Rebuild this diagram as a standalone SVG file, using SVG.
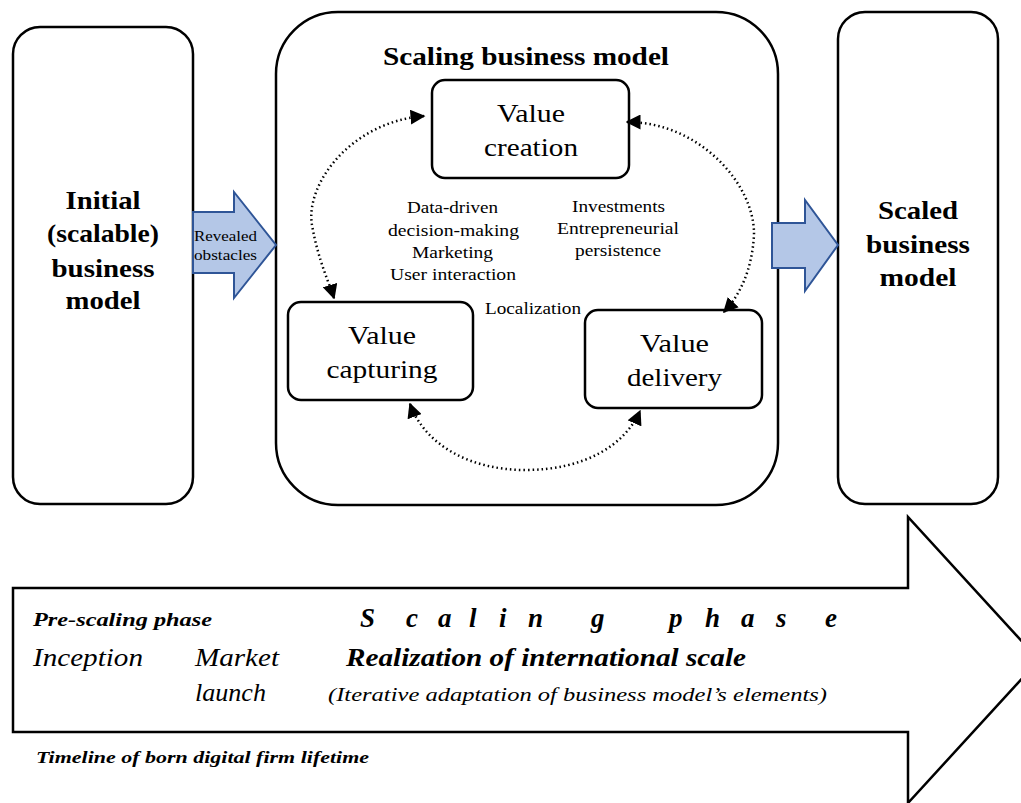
<svg xmlns="http://www.w3.org/2000/svg" width="1021" height="803" viewBox="0 0 1021 803">
<style>
.box{fill:#fff;stroke:#000;stroke-width:2.5}
.arrowbox{fill:#b4c7e7;stroke:#2f5597;stroke-width:2}
text{font-family:'Liberation Serif','DejaVu Serif',serif;fill:#000}
.big{font-size:25px;font-weight:bold;text-anchor:middle}
.node{font-size:25px;text-anchor:middle}
.small{font-size:16px;text-anchor:middle}
.dot{fill:none;stroke:#000;stroke-width:2.5;stroke-dasharray:1.5 3}
</style>
<defs>
<marker id="ah" viewBox="0 0 10 10" refX="9" refY="5" markerWidth="6" markerHeight="6" orient="auto-start-reverse" markerUnits="strokeWidth">
<path d="M0,0 L10,5 L0,10 z" fill="#000"/>
</marker>
</defs>

<g id="timeline">
<path d="M13,588 H908 V517 L1039,660 L908,803 V732 H13 Z" fill="#fff" stroke="#000" stroke-width="2.5"/>
<text x="33" y="626" font-size="18.5" font-weight="bold" font-style="italic" textLength="179" lengthAdjust="spacingAndGlyphs">Pre-scaling phase</text>
<text font-size="27" font-weight="bold" font-style="italic" y="627" x="360 406 438 469 499 528 591 640 669 705 741 776 825">Scaling phase</text>
<text x="33" y="666" font-size="25" font-style="italic" textLength="110" lengthAdjust="spacingAndGlyphs">Inception</text>
<text x="195" y="666" font-size="25" font-style="italic" textLength="84" lengthAdjust="spacingAndGlyphs">Market</text>
<text x="195" y="701" font-size="25" font-style="italic" textLength="71" lengthAdjust="spacingAndGlyphs">launch</text>
<text x="346" y="666" font-size="25" font-weight="bold" font-style="italic" textLength="400" lengthAdjust="spacingAndGlyphs">Realization of international scale</text>
<text x="328" y="701" font-size="19.5" font-style="italic" textLength="499" lengthAdjust="spacingAndGlyphs">(Iterative adaptation of business model’s elements)</text>
<text x="36" y="763" font-size="17" font-weight="bold" font-style="italic" textLength="333" lengthAdjust="spacingAndGlyphs">Timeline of born digital firm lifetime</text>
</g>

<g id="initial">
<rect class="box" x="13" y="27" width="180" height="477" rx="27"/>
<text class="big" x="103" y="209" textLength="75" lengthAdjust="spacingAndGlyphs">Initial</text>
<text class="big" x="103" y="242" textLength="112" lengthAdjust="spacingAndGlyphs">(scalable)</text>
<text class="big" x="103" y="277" textLength="103" lengthAdjust="spacingAndGlyphs">business</text>
<text class="big" x="103" y="309" textLength="75" lengthAdjust="spacingAndGlyphs">model</text>
</g>

<g id="scaling">
<rect class="box" x="276" y="12" width="502" height="493" rx="62"/>
<text class="big" x="526" y="65" textLength="286" lengthAdjust="spacingAndGlyphs">Scaling business model</text>
</g>

<g id="scaled">
<rect class="box" x="838" y="12" width="160" height="492" rx="27"/>
<text class="big" x="918" y="219" textLength="80" lengthAdjust="spacingAndGlyphs">Scaled</text>
<text class="big" x="918" y="253" textLength="104" lengthAdjust="spacingAndGlyphs">business</text>
<text class="big" x="918" y="286" textLength="77" lengthAdjust="spacingAndGlyphs">model</text>
</g>

<g id="revealed">
<path class="arrowbox" d="M193,212 H234 V192 L276,245 L234,298 V273 H193 Z"/>
<text x="225.5" y="241" font-size="14" text-anchor="middle" textLength="63" lengthAdjust="spacingAndGlyphs">Revealed</text>
<text x="225.5" y="260" font-size="14" text-anchor="middle" textLength="63" lengthAdjust="spacingAndGlyphs">obstacles</text>
</g>

<g id="toScaled">
<path class="arrowbox" d="M772,223 H805 V200 L838,245 L805,291 V268 H772 Z"/>
</g>

<g id="creation">
<rect class="box" x="432" y="80" width="197" height="98" rx="13"/>
<text class="node" x="531" y="122" textLength="68" lengthAdjust="spacingAndGlyphs">Value</text>
<text class="node" x="531" y="156" textLength="94" lengthAdjust="spacingAndGlyphs">creation</text>
</g>

<g id="capturing">
<rect class="box" x="288" y="302" width="185" height="98" rx="13"/>
<text class="node" x="382" y="344" textLength="68" lengthAdjust="spacingAndGlyphs">Value</text>
<text class="node" x="382" y="378" textLength="111" lengthAdjust="spacingAndGlyphs">capturing</text>
</g>

<g id="delivery">
<rect class="box" x="585" y="310" width="177" height="98" rx="13"/>
<text class="node" x="674.5" y="352" textLength="69" lengthAdjust="spacingAndGlyphs">Value</text>
<text class="node" x="674.5" y="386" textLength="95" lengthAdjust="spacingAndGlyphs">delivery</text>
</g>

<g id="labels">
<text class="small" x="452.5" y="213" textLength="91" lengthAdjust="spacingAndGlyphs">Data-driven</text>
<text class="small" x="453.5" y="236" textLength="131" lengthAdjust="spacingAndGlyphs">decision-making</text>
<text class="small" x="452.5" y="258" textLength="81" lengthAdjust="spacingAndGlyphs">Marketing</text>
<text class="small" x="453" y="280" textLength="126" lengthAdjust="spacingAndGlyphs">User interaction</text>
<text class="small" x="618.5" y="212" textLength="93" lengthAdjust="spacingAndGlyphs">Investments</text>
<text class="small" x="618" y="234" textLength="122" lengthAdjust="spacingAndGlyphs">Entrepreneurial</text>
<text class="small" x="618" y="256" textLength="86" lengthAdjust="spacingAndGlyphs">persistence</text>
<text class="small" x="533" y="314" textLength="96" lengthAdjust="spacingAndGlyphs">Localization</text>
</g>

<g id="connectors">
<path class="dot" d="M424,116 C350,122 305,185 312,225 C318,260 330,285 334,298" marker-start="url(#ah)" marker-end="url(#ah)"/>
<path class="dot" d="M627,122 C700,122 755,185 754,235 C752,270 740,295 724,312" marker-start="url(#ah)" marker-end="url(#ah)"/>
<path class="dot" d="M410,404 C425,445 470,470 525,470 C585,470 625,445 640,411" marker-start="url(#ah)" marker-end="url(#ah)"/>
</g>
</svg>
